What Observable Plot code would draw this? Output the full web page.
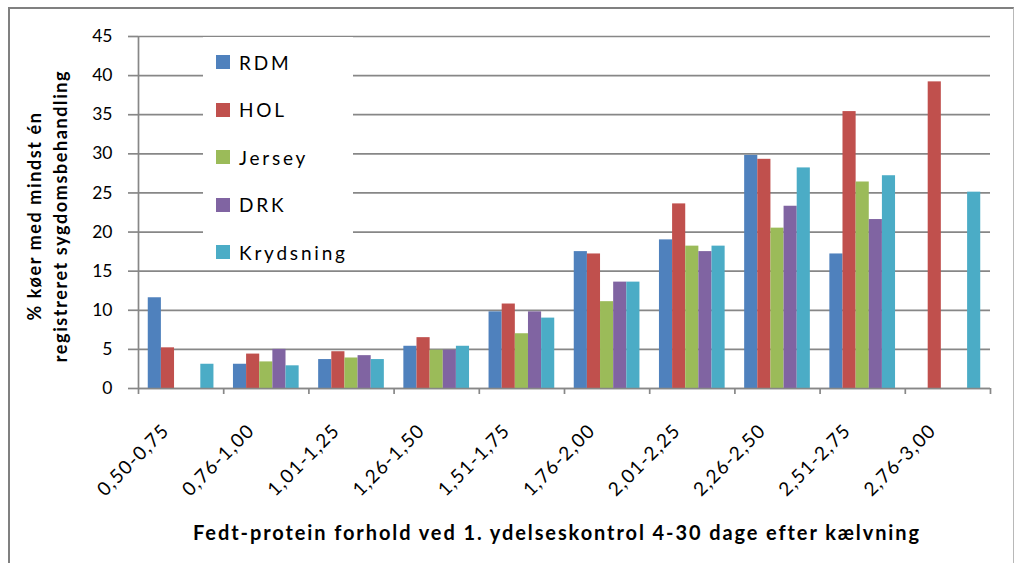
<!DOCTYPE html>
<html><head><meta charset="utf-8">
<script src="https://cdn.jsdelivr.net/npm/d3@7"></script>
<script src="https://cdn.jsdelivr.net/npm/@observablehq/plot@0.6"></script>
<style>
body{margin:0;background:#fff;font-family:Lato,sans-serif;}
#wrap{position:relative;width:1015px;height:563px;overflow:hidden;background:#fff;}
#border{position:absolute;left:8px;top:7px;width:1003px;height:620px;border-left:2px solid #808080;border-top:2px solid #808080;border-right:1px solid #b8b8b8;}
#chart{position:absolute;left:0;top:0;}
#chart svg{overflow:visible;}
#chart g[aria-label="text"] text{letter-spacing:1.2px;}
#legend{position:absolute;left:203px;top:37px;width:150px;height:233px;background:#fff;}
.item{position:absolute;left:13px;height:24px;display:flex;align-items:center;font-size:19px;letter-spacing:2.8px;color:#000;}
.sw{width:14px;height:14px;margin-right:9px;flex:none;}
#ytitle{position:absolute;left:-123px;top:190px;width:340px;height:52px;transform:rotate(-90deg);text-align:center;font-weight:bold;font-size:18px;line-height:26px;letter-spacing:1.6px;color:#000;}
#xtitle{position:absolute;left:157px;top:521px;width:800px;text-align:center;font-weight:bold;font-size:20px;line-height:22px;letter-spacing:1.9px;color:#000;white-space:nowrap;}
</style></head><body>
<div id="wrap">
<div id="border"></div>
<div id="chart"></div>
<div id="legend"></div>
<div id="ytitle"></div>
<div id="xtitle"></div>
</div>
<script>
const categories = ["0,50-0,75","0,76-1,00","1,01-1,25","1,26-1,50","1,51-1,75","1,76-2,00","2,01-2,25","2,26-2,50","2,51-2,75","2,76-3,00"];
const series = ["RDM","HOL","Jersey","DRK","Krydsning"];
const colors = ["#4F81BD","#C0504D","#9BBB59","#8064A2","#4BACC6"];
const RDM       = [11.6, 3.1, 3.7, 5.4,  9.8, 17.5, 19.0, 29.8, 17.2, null];
const HOL       = [5.2,  4.4, 4.7, 6.5, 10.8, 17.2, 23.6, 29.3, 35.4, 39.2];
const Jersey    = [null, 3.4, 3.9, 4.9,  7.0, 11.1, 18.2, 20.5, 26.4, null];
const DRK       = [null, 5.0, 4.2, 4.9,  9.8, 13.6, 17.5, 23.3, 21.6, null];
const Krydsning = [3.1,  2.9, 3.7, 5.4,  9.0, 13.6, 18.2, 28.2, 27.2, 25.1];
const yTicks = [0, 5, 10, 15, 20, 25, 30, 35, 40, 45];
const yTitleLines = ["% køer med mindst én", "registreret sygdomsbehandling"];
const xTitle = "Fedt-protein forhold ved 1. ydelseskontrol 4-30 dage efter kælvning";

const seriesValues = [RDM, HOL, Jersey, DRK, Krydsning];
const data = [];
series.forEach((s, j) => seriesValues[j].forEach((v, i) => {
  if (v != null) data.push({category: categories[i], ci: i, series: s, sj: j, value: v});
}));

const groupFrac = 0.771;
const barFrac = groupFrac / series.length;
const padFrac = (1 - groupFrac) / 2;
const grey = "#878787";

const chart = Plot.plot({
  width: 1015, height: 563,
  marginLeft: 138, marginRight: 25, marginTop: 36, marginBottom: 175,
  style: {fontFamily: "Lato, sans-serif", background: "transparent", color: "#000"},
  x: {domain: [0, categories.length], axis: null},
  y: {domain: [0, 45], axis: null},
  color: {domain: series, range: colors},
  marks: [
    Plot.gridY({ticks: yTicks, stroke: grey, strokeOpacity: 1, strokeWidth: 1.7}),
    Plot.rectY(data, {
      x1: d => d.ci + padFrac + d.sj * barFrac,
      x2: d => d.ci + padFrac + (d.sj + 1) * barFrac,
      y1: 0, y2: "value", fill: "series"
    }),
    Plot.ruleY([0], {stroke: grey, strokeWidth: 1.7}),
    Plot.ruleX([0], {stroke: grey, strokeWidth: 1.7}),
    Plot.axisY({ticks: yTicks, anchor: "left", tickSize: 10, tickPadding: 16, fontSize: 17.5, stroke: grey, strokeWidth: 1.7, fill: "#000", label: null}),
    Plot.axisX({ticks: d3.range(0, categories.length + 1), anchor: "bottom", tickSize: 6, tickFormat: () => "", stroke: grey, strokeWidth: 1.7, label: null}),
    Plot.text(categories, {
      x: (d, i) => i + 0.5, y: () => 0,
      text: d => d, rotate: -45, textAnchor: "end", lineAnchor: "middle",
      dx: -15, dy: 39, fontSize: 19, fill: "#000"
    })
  ]
});
document.getElementById("chart").appendChild(chart);

const legend = document.getElementById("legend");
series.forEach((s, j) => {
  const it = document.createElement("div");
  it.className = "item";
  it.style.top = (13 + j * 47.5) + "px";
  it.innerHTML = `<span class="sw" style="background:${colors[j]}"></span><span>${s}</span>`;
  legend.appendChild(it);
});
document.getElementById("ytitle").innerHTML = yTitleLines.map(l => `<div>${l}</div>`).join("");
document.getElementById("xtitle").textContent = xTitle;
</script>
</body></html>
